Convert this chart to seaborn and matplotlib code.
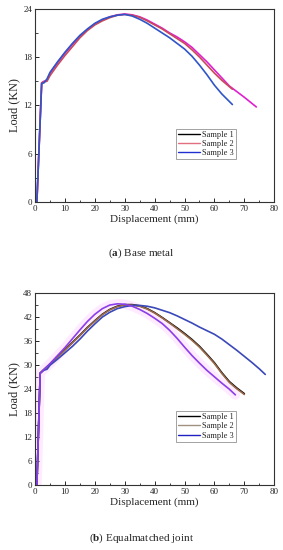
import numpy as np
import pandas as pd
import matplotlib
matplotlib.use("Agg")
import matplotlib.pyplot as plt
import seaborn as sns
from matplotlib.ticker import MultipleLocator

# ---- data (displacement mm, load kN) ----
samples = ["Sample 1", "Sample 2", "Sample 3"]

# (a) base metal
base_s1_x = [0.6, 2.2, 3.0, 4.0, 5, 7.5, 10, 12.5, 15, 17.5, 20, 22.5, 25, 27.5, 30, 32.5, 35, 37.5, 40, 42.5, 45, 47.5, 50, 52.5, 55, 57.5, 60, 62.5, 65, 67.5, 70, 72, 74]
base_s1_y = [0.0, 14.8, 15.0, 15.1, 16.0, 17.3, 18.5, 19.6, 20.6, 21.4, 22.1, 22.6, 23.0, 23.25, 23.35, 23.25, 23.0, 22.6, 22.1, 21.6, 21.0, 20.5, 19.9, 19.2, 18.3, 17.4, 16.4, 15.4, 14.4, 13.7, 13.0, 12.4, 11.8]
base_s2_x = [0.6, 2.2, 3.0, 4.0, 5, 7.5, 10, 12.5, 15, 17.5, 20, 22.5, 25, 27.5, 30, 32.5, 35, 37.5, 40, 42.5, 45, 47.5, 50, 52.5, 55, 57.5, 60, 62.5, 66]
base_s2_y = [0.0, 14.8, 14.9, 15.0, 15.7, 17.0, 18.2, 19.3, 20.4, 21.3, 22.0, 22.5, 22.9, 23.2, 23.3, 23.2, 22.95, 22.5, 22.0, 21.5, 20.9, 20.3, 19.7, 18.9, 18.0, 17.0, 16.0, 15.1, 14.0]
base_s3_x = [0.6, 2.2, 3.0, 4.0, 5, 7.5, 10, 12.5, 15, 17.5, 20, 22.5, 25, 27.5, 30, 32.5, 35, 37.5, 40, 42.5, 45, 47.5, 50, 52.5, 55, 57.5, 60, 62.5, 66]
base_s3_y = [0.0, 14.7, 14.8, 15.3, 16.1, 17.4, 18.6, 19.7, 20.7, 21.5, 22.2, 22.7, 23.0, 23.2, 23.3, 23.1, 22.7, 22.2, 21.6, 21.0, 20.4, 19.7, 19.0, 18.1, 17.0, 15.8, 14.5, 13.4, 12.1]

# (b) equalmatched joint
joint_s1_x = [0.6, 1.7, 2.8, 5, 7.5, 10, 12.5, 15, 17.5, 20, 22.5, 25, 27.5, 30, 32.5, 35, 37.5, 40, 42.5, 45, 47.5, 50, 52.5, 55, 57.5, 60, 62.5, 65, 67.5, 70]
joint_s1_y = [0.0, 27.9, 28.7, 30.2, 32.0, 33.8, 35.6, 37.4, 39.3, 41.0, 42.6, 43.8, 44.6, 45.0, 45.0, 44.7, 44.0, 43.0, 41.8, 40.5, 39.2, 37.8, 36.3, 34.6, 32.6, 30.5, 28.0, 25.8, 24.2, 22.8]
joint_s2_x = joint_s1_x
joint_s2_y = [0.0, 27.9, 28.7, 30.1, 31.9, 33.7, 35.5, 37.3, 39.2, 40.9, 42.5, 43.7, 44.5, 44.9, 44.9, 44.6, 43.9, 42.9, 41.7, 40.4, 39.0, 37.6, 36.1, 34.4, 32.4, 30.3, 27.8, 25.6, 24.0, 22.6]
joint_s3_x = [0.6, 1.7, 2.8, 4.0, 5, 7.5, 10, 12.5, 15, 17.5, 20, 22.5, 25, 27.5, 30, 32.5, 35, 37.5, 40, 42.5, 45, 47.5, 50, 52.5, 55, 57.5, 60, 62.5, 65, 67.5, 70, 72.5, 75, 77]
joint_s3_y = [0.0, 27.9, 28.6, 28.9, 29.9, 31.4, 33.0, 34.6, 36.4, 38.4, 40.2, 41.9, 43.1, 44.0, 44.5, 44.8, 44.8, 44.6, 44.2, 43.6, 43.0, 42.2, 41.3, 40.4, 39.4, 38.5, 37.6, 36.4, 35.0, 33.6, 32.1, 30.6, 29.0, 27.6]
joint_s4_x = [0.6, 1.7, 2.8, 5, 7.5, 10, 12.5, 15, 17.5, 20, 22.5, 25, 27.5, 30, 32.5, 35, 37.5, 40, 42.5, 45, 47.5, 50, 52.5, 55, 57.5, 60, 62.5, 65, 67]
joint_s4_y = [0.0, 27.9, 28.7, 30.3, 32.3, 34.3, 36.5, 38.7, 40.8, 42.6, 44.0, 44.9, 45.2, 45.1, 44.6, 43.8, 42.8, 41.6, 40.3, 38.6, 36.6, 34.4, 32.3, 30.4, 28.6, 27.0, 25.4, 23.9, 22.5]


def to_frame(parts):
    frames = []
    for name, xs, ys in parts:
        frames.append(pd.DataFrame({"disp": xs, "load": ys, "sample": name}))
    return pd.concat(frames, ignore_index=True)


base_df = to_frame([(samples[0], base_s1_x, base_s1_y),
                    (samples[1], base_s2_x, base_s2_y),
                    (samples[2], base_s3_x, base_s3_y)])
joint_df = to_frame([(samples[0], joint_s1_x, joint_s1_y),
                     (samples[1], joint_s2_x, joint_s2_y),
                     (samples[2], joint_s3_x, joint_s3_y),
                     ("extra", joint_s4_x, joint_s4_y)])

sns.set_style("ticks")
plt.rcParams["font.family"] = ["Liberation Serif", "DejaVu Serif"]
plt.rcParams["mathtext.fontset"] = "custom"
plt.rcParams["mathtext.rm"] = "Liberation Serif"
plt.rcParams["mathtext.bf"] = "Liberation Serif:bold"
plt.rcParams["xtick.direction"] = "in"
plt.rcParams["ytick.direction"] = "in"

fig = plt.figure(figsize=(2.83, 5.5), dpi=100)
ax1 = fig.add_axes([0.124, 0.633, 0.845, 0.351])
ax2 = fig.add_axes([0.124, 0.118, 0.845, 0.350])

# curve colours as they appear, legend colours as printed in the key
base_pal = {samples[0]: "#e020d0", samples[1]: "#c84a5a", samples[2]: "#2f55c8"}
base_key = ["black", "#e07080", "#2030d0"]
joint_pal = {samples[0]: "black", samples[1]: "#9a6a4a", samples[2]: "#3a48b8", "extra": "#8a3ee8"}
joint_key = ["black", "#a09080", "#2020c0"]

# soft pink haze under the violet curve in (b)
ex = joint_df[joint_df["sample"] == "extra"]
ax2.plot(ex["disp"], ex["load"], color="#ff60ff", lw=7, alpha=0.12, zorder=1)

sns.lineplot(data=base_df, x="disp", y="load", hue="sample", palette=base_pal,
             sort=False, estimator=None, lw=1.2, ax=ax1)
sns.lineplot(data=joint_df, x="disp", y="load", hue="sample", palette=joint_pal,
             sort=False, estimator=None, lw=1.2, ax=ax2)


def style_axes(ax, ymax, key_colors, key_pos):
    ax.set_xlim(0, 80)
    ax.set_ylim(0, ymax)
    ax.xaxis.set_major_locator(MultipleLocator(10))
    ax.xaxis.set_minor_locator(MultipleLocator(5))
    ax.yaxis.set_major_locator(MultipleLocator(6))
    ax.yaxis.set_minor_locator(MultipleLocator(3))
    ax.tick_params(which="major", length=3, width=0.7, labelsize=6.5, pad=2)
    ax.tick_params(which="minor", length=1.8, width=0.6)
    for sp in ax.spines.values():
        sp.set_visible(True)
        sp.set_linewidth(0.8)
        sp.set_color("#333333")
    ax.set_xlabel("Displacement (mm)", fontsize=8, labelpad=1)
    ax.set_ylabel("Load (KN)", fontsize=8.8, labelpad=2)
    handles, labels = ax.get_legend_handles_labels()
    handles = handles[:3]
    labels = labels[:3]
    leg = ax.legend(handles, labels, loc="center left", bbox_to_anchor=key_pos,
                    fontsize=6, frameon=True, fancybox=False, edgecolor="#777777",
                    handlelength=2.6, handletextpad=0.3, borderpad=0.25,
                    labelspacing=0.15, borderaxespad=0)
    leg.get_frame().set_linewidth(0.6)
    for line, c in zip(leg.get_lines(), key_colors):
        line.set_color(c)
        line.set_linewidth(1.0)


style_axes(ax1, 24, base_key, (0.59, 0.30))
style_axes(ax2, 48, joint_key, (0.59, 0.305))

fig.text(0.5, 0.54, r"($\mathbf{a}$) Base metal", fontsize=8, ha="center", va="center")
fig.text(0.5, 0.022, r"($\mathbf{b}$) Equalmatched joint", fontsize=8, ha="center", va="center")

fig.savefig("out.png", dpi=100)
